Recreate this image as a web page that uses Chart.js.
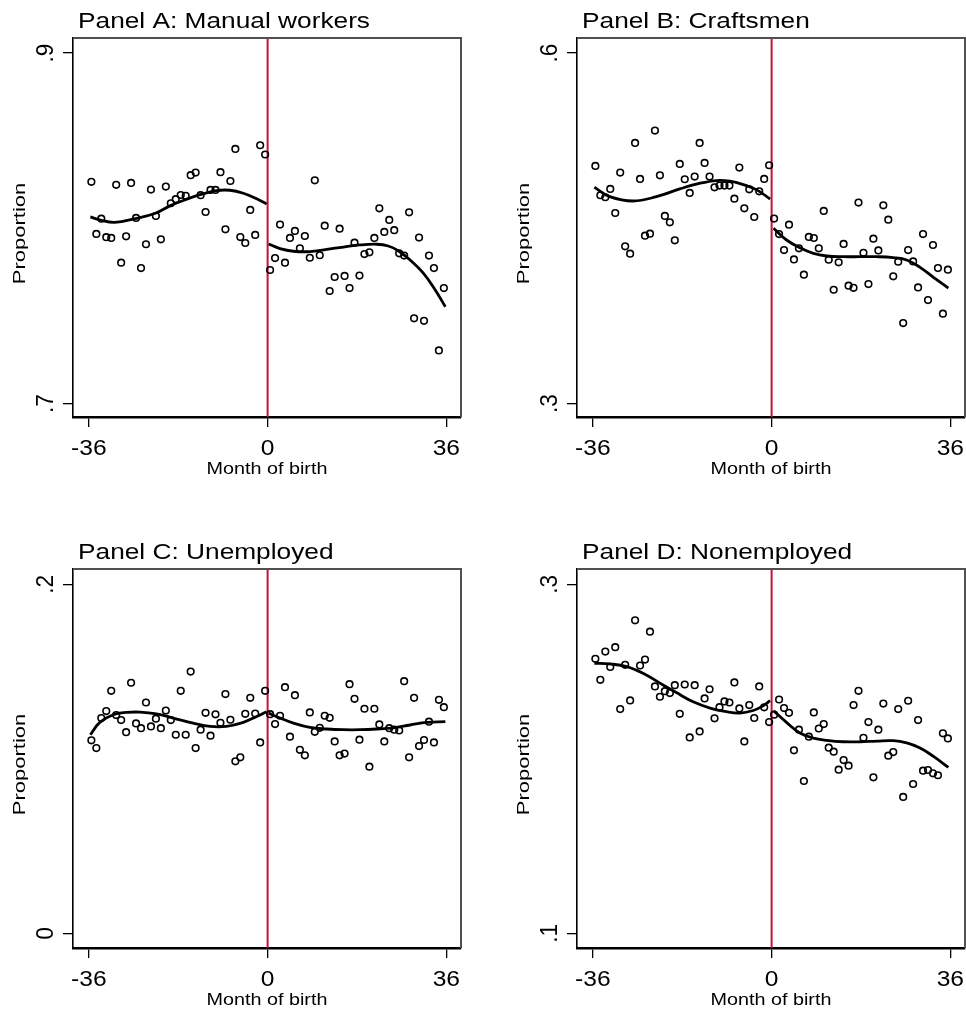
<!DOCTYPE html>
<html><head><meta charset="utf-8">
<script src="https://cdn.jsdelivr.net/npm/chart.js@4.4.1/dist/chart.umd.min.js"></script>
<style>
html,body{margin:0;padding:0;background:#fff;}
body{width:966px;height:1014px;position:relative;overflow:hidden;}
canvas{position:absolute;}
</style></head><body>
<canvas id="pA" width="462" height="483" style="left:0px;top:0px"></canvas>
<canvas id="pB" width="462" height="483" style="left:504px;top:0px"></canvas>
<canvas id="pC" width="462" height="483" style="left:0px;top:531px"></canvas>
<canvas id="pD" width="462" height="483" style="left:504px;top:531px"></canvas>
<script>
// ---------------- DATA ----------------
const panelTitles = ["Panel A: Manual workers", "Panel B: Craftsmen", "Panel C: Unemployed", "Panel D: Nonemployed"];
const xTitle = "Month of birth";
const yTitle = "Proportion";
const xTicks = [-36, 0, 36];
const xTickLabels = ["-36", "0", "36"];

const monthsBefore = [-35.5,-34.5,-33.5,-32.5,-31.5,-30.5,-29.5,-28.5,-27.5,-26.5,-25.5,-24.5,-23.5,-22.5,-21.5,-20.5,-19.5,-18.5,-17.5,-16.5,-15.5,-14.5,-13.5,-12.5,-11.5,-10.5,-9.5,-8.5,-7.5,-6.5,-5.5,-4.5,-3.5,-2.5,-1.5,-0.5];
const monthsAfter = [0.5,1.5,2.5,3.5,4.5,5.5,6.5,7.5,8.5,9.5,10.5,11.5,12.5,13.5,14.5,15.5,16.5,17.5,18.5,19.5,20.5,21.5,22.5,23.5,24.5,25.5,26.5,27.5,28.5,29.5,30.5,31.5,32.5,33.5,34.5,35.5];

// Panel A: Manual workers
const manualBefore = [0.8265,0.7968,0.8055,0.7949,0.7945,0.8248,0.7804,0.7954,0.8259,0.8059,0.7773,0.7909,0.8221,0.8070,0.7937,0.8238,0.8143,0.8166,0.8190,0.8185,0.8303,0.8318,0.8189,0.8093,0.8219,0.8219,0.8320,0.7994,0.8270,0.8453,0.7950,0.7916,0.8105,0.7962,0.8474,0.8421];
const manualAfter = [0.7762,0.7830,0.8021,0.7804,0.7945,0.7985,0.7886,0.7956,0.7832,0.8274,0.7846,0.8015,0.7642,0.7722,0.7998,0.7728,0.7659,0.7918,0.7730,0.7853,0.7863,0.7945,0.8114,0.7979,0.8048,0.7989,0.7857,0.7844,0.8091,0.7486,0.7947,0.7472,0.7844,0.7773,0.7303,0.7659];
const manualFitBeforeX = [-35.7,-33.8,-30.8,-26.7,-22.6,-19.7,-16.7,-13.6,-10.3,-7.6,-4.9,-2.2,-0.2];
const manualFitBeforeY = [0.8065,0.8048,0.8034,0.8055,0.8086,0.8128,0.8162,0.8192,0.8215,0.8217,0.8200,0.8168,0.8139];
const manualFitAfterX = [0.2,2.5,5.2,8.5,11.9,15.3,18.6,22.0,24.3,26.3,28.7,31.4,33.7,35.8];
const manualFitAfterY = [0.7910,0.7884,0.7869,0.7867,0.7880,0.7893,0.7905,0.7909,0.7899,0.7872,0.7819,0.7743,0.7651,0.7552];
const manualYTicks = [0.7, 0.9];
const manualYLabels = [".7", ".9"];

// Panel B: Craftsmen
const craftBefore = [0.5034,0.4783,0.4766,0.4837,0.4631,0.4977,0.4346,0.4283,0.5231,0.4923,0.4437,0.4454,0.5337,0.4954,0.4606,0.4551,0.4397,0.5051,0.4920,0.4803,0.4943,0.5231,0.5060,0.4943,0.4851,0.4866,0.4866,0.4866,0.4754,0.5020,0.4671,0.4834,0.4597,0.4817,0.4923,0.5040];
const craftAfter = [0.4583,0.4451,0.4314,0.4531,0.4234,0.4329,0.4103,0.4426,0.4417,0.4329,0.4649,0.4231,0.3974,0.4209,0.4366,0.4009,0.3991,0.4720,0.4291,0.4023,0.4411,0.4311,0.4697,0.4574,0.4089,0.4214,0.3689,0.4314,0.4217,0.3994,0.4451,0.3886,0.4357,0.4160,0.3769,0.4146];
const craftFitBeforeX = [-35.7,-32.6,-27.9,-23.2,-18.5,-14.4,-11.1,-8.4,-5.7,-3.0,-0.3];
const craftFitBeforeY = [0.4851,0.4771,0.4734,0.4771,0.4837,0.4886,0.4909,0.4903,0.4874,0.4829,0.4751];
const craftFitAfterX = [0.4,3.0,5.7,8.4,11.1,14.4,17.8,21.2,24.5,27.2,29.9,32.6,35.6];
const craftFitAfterY = [0.4500,0.4400,0.4334,0.4286,0.4263,0.4257,0.4257,0.4257,0.4249,0.4229,0.4166,0.4080,0.3989];
const craftYTicks = [0.3, 0.6];
const craftYLabels = [".3", ".6"];

// Panel C: Unemployed
const unempBefore = [0.1106,0.1062,0.1234,0.1274,0.1390,0.1251,0.1222,0.1153,0.1436,0.1203,0.1176,0.1323,0.1186,0.1230,0.1176,0.1277,0.1222,0.1138,0.1390,0.1138,0.1500,0.1062,0.1167,0.1264,0.1133,0.1255,0.1207,0.1371,0.1224,0.0986,0.1009,0.1258,0.1350,0.1260,0.1094,0.1390];
const unempAfter = [0.1256,0.1199,0.1247,0.1411,0.1127,0.1365,0.1052,0.1020,0.1266,0.1155,0.1178,0.1247,0.1235,0.1100,0.1020,0.1030,0.1428,0.1344,0.1110,0.1287,0.0955,0.1287,0.1197,0.1100,0.1176,0.1167,0.1163,0.1445,0.1009,0.1350,0.1073,0.1108,0.1213,0.1094,0.1338,0.1296];
const unempFitBeforeX = [-35.7,-33.8,-31.1,-28.4,-25.7,-22.4,-19.0,-15.0,-11.6,-8.3,-4.9,-2.2,-0.2];
const unempFitBeforeY = [0.1138,0.1209,0.1253,0.1266,0.1268,0.1258,0.1234,0.1205,0.1186,0.1186,0.1209,0.1243,0.1270];
const unempFitAfterX = [0.2,2.5,5.2,8.5,11.9,15.3,18.6,22.0,25.3,28.7,32.1,35.8];
const unempFitAfterY = [0.1262,0.1234,0.1205,0.1180,0.1171,0.1167,0.1167,0.1171,0.1178,0.1194,0.1209,0.1213];
const unempYTicks = [0, 0.2];
const unempYLabels = ["0", ".2"];

// Panel D: Nonemployed
const nonempBefore = [0.2573,0.2453,0.2615,0.2527,0.2640,0.2285,0.2539,0.2335,0.2794,0.2535,0.2569,0.2729,0.2415,0.2356,0.2388,0.2377,0.2422,0.2258,0.2426,0.2123,0.2422,0.2157,0.2346,0.2399,0.2232,0.2296,0.2329,0.2323,0.2438,0.2289,0.2100,0.2308,0.2234,0.2415,0.2295,0.2211];
const nonempAfter = [0.2253,0.2340,0.2291,0.2264,0.2049,0.2167,0.1873,0.2127,0.2266,0.2174,0.2199,0.2064,0.2041,0.1938,0.1993,0.1961,0.2308,0.2390,0.2121,0.2211,0.1894,0.2167,0.2317,0.2018,0.2039,0.2285,0.1782,0.2333,0.1856,0.2222,0.1932,0.1936,0.1917,0.1906,0.2146,0.2117];
const nonempFitBeforeX = [-35.7,-32.6,-29.2,-25.9,-22.5,-19.2,-15.8,-12.4,-9.1,-6.4,-3.7,-1.7,-0.3];
const nonempFitBeforeY = [0.2548,0.2544,0.2529,0.2491,0.2434,0.2380,0.2327,0.2291,0.2270,0.2262,0.2277,0.2304,0.2333];
const nonempFitAfterX = [0.4,3.0,5.7,8.4,11.1,14.4,17.8,21.2,24.5,27.2,29.9,32.6,35.6];
const nonempFitAfterY = [0.2276,0.2209,0.2148,0.2119,0.2106,0.2098,0.2098,0.2102,0.2104,0.2091,0.2062,0.2014,0.1951];
const nonempYTicks = [0.1, 0.3];
const nonempYLabels = [".1", ".3"];

// ---------------- DRAWING ----------------
const FONT = '"Liberation Sans", Arial, Helvetica, sans-serif';
function drawText(ctx, txt, x, y, o) {
  ctx.save();
  ctx.translate(x, y);
  if (o.rot) ctx.rotate(o.rot);
  ctx.scale(o.sx || 1, o.sy || 1);
  ctx.font = o.size + 'px ' + FONT;
  ctx.textAlign = o.align || 'left';
  ctx.textBaseline = 'alphabetic';
  ctx.fillStyle = '#000';
  ctx.fillText(txt, 0, 0);
  ctx.restore();
}

const stataText = {
  id: 'stataText',
  afterDraw(chart, args, opts) {
    const ctx = chart.ctx, ca = chart.chartArea;
    const xs = chart.scales.x, ys = chart.scales.y;
    // plot region outline (top / right)
    ctx.save();
    ctx.strokeStyle = '#505050';
    ctx.lineWidth = 2;
    ctx.beginPath();
    ctx.moveTo(ca.left, ca.top);
    ctx.lineTo(ca.right, ca.top);
    ctx.lineTo(ca.right, ca.bottom);
    ctx.stroke();
    ctx.restore();
    // title
    drawText(ctx, opts.title, ca.left + 5, 27.5, {size: 21.9, sx: 1.2});
    // x tick labels
    xTicks.forEach((v, i) => drawText(ctx, xTickLabels[i], xs.getPixelForValue(v), 455, {size: 21.4, sx: 1.15, align: 'center'}));
    // x title
    drawText(ctx, xTitle, (ca.left + ca.right) / 2, 474, {size: 17.2, sx: 1.15, align: 'center'});
    // y tick labels (rotated)
    opts.yTicks.forEach((v, i) => drawText(ctx, opts.yLabels[i], 53, ys.getPixelForValue(v), {size: 21.4, rot: -Math.PI / 2, sx: 1.06, sy: 1.13, align: 'center'}));
    // y title
    drawText(ctx, yTitle, 24.5, (ca.top + ca.bottom) / 2 + 6, {size: 17.2, rot: -Math.PI / 2, sx: 1.28, sy: 1.0, align: 'center'});
  }
};

function pts(xArr, yArr) { return xArr.map((x, i) => ({x: x, y: yArr[i]})); }

function makePanel(id, title, before, after, fbx, fby, fax, fay, yMin, yMax, yTicks, yLabels) {
  const datasets = [
    { label: 'bins', data: pts(monthsBefore, before).concat(pts(monthsAfter, after)),
      showLine: false, pointStyle: 'circle', pointRadius: 3.3, pointBorderWidth: 1.6,
      pointBorderColor: '#000', pointBackgroundColor: 'rgba(0,0,0,0)', order: 1 },
    { label: 'fitBefore', data: pts(fbx, fby), showLine: true, borderColor: '#000', borderWidth: 2.8,
      pointRadius: 0, tension: 0.4, fill: false, order: 2 },
    { label: 'fitAfter', data: pts(fax, fay), showLine: true, borderColor: '#000', borderWidth: 2.8,
      pointRadius: 0, tension: 0.4, fill: false, order: 2 },
    { label: 'cutoff', data: [{x: 0, y: yMin}, {x: 0, y: yMax}], showLine: true, borderColor: '#c8103c',
      borderWidth: 2, pointRadius: 0, fill: false, order: 3 }
  ];
  return new Chart(document.getElementById(id), {
    type: 'scatter',
    data: { datasets },
    options: {
      responsive: false, animation: false, events: [], devicePixelRatio: 1,
      layout: { autoPadding: false, padding: { left: 0, top: 38, right: 1, bottom: 0 } },
      plugins: { legend: { display: false }, tooltip: { enabled: false }, title: { display: false },
        stataText: { title, yTicks, yLabels } },
      scales: {
        x: { type: 'linear', position: 'bottom', min: -39.2, max: 38.95, z: 1,
          afterBuildTicks: s => { s.ticks = xTicks.map(v => ({value: v})); },
          afterFit: s => { s.height = 66; },
          ticks: { display: false },
          grid: { display: true, drawOnChartArea: false, drawTicks: true, tickLength: 10, color: '#000', lineWidth: 1.3 },
          border: { display: true, color: '#000', width: 2.4 } },
        y: { type: 'linear', position: 'left', min: yMin, max: yMax, z: 1,
          afterBuildTicks: s => { s.ticks = yTicks.map(v => ({value: v})); },
          afterFit: s => { s.width = 73; },
          ticks: { display: false },
          grid: { display: true, drawOnChartArea: false, drawTicks: true, tickLength: 10, color: '#000', lineWidth: 1.3 },
          border: { display: true, color: '#000', width: 1.6 } }
      }
    },
    plugins: [stataText]
  });
}

makePanel('pA', panelTitles[0], manualBefore, manualAfter, manualFitBeforeX, manualFitBeforeY, manualFitAfterX, manualFitAfterY, 0.6923, 0.9086, manualYTicks, manualYLabels);
makePanel('pB', panelTitles[1], craftBefore, craftAfter, craftFitBeforeX, craftFitBeforeY, craftFitAfterX, craftFitAfterY, 0.2885, 0.6129, craftYTicks, craftYLabels);
makePanel('pC', panelTitles[2], unempBefore, unempAfter, unempFitBeforeX, unempFitBeforeY, unempFitAfterX, unempFitAfterY, -0.0084, 0.2088, unempYTicks, unempYLabels);
makePanel('pD', panelTitles[3], nonempBefore, nonempAfter, nonempFitBeforeX, nonempFitBeforeY, nonempFitAfterX, nonempFitAfterY, 0.0916, 0.3088, nonempYTicks, nonempYLabels);
</script>
</body></html>
